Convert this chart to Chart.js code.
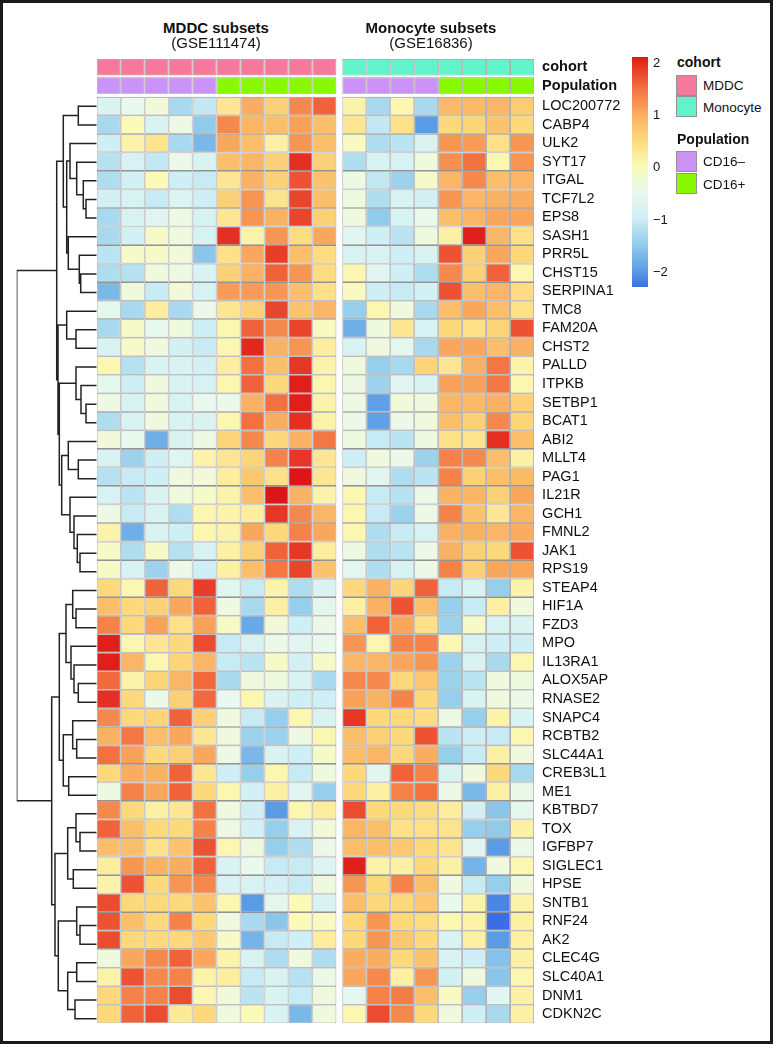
<!DOCTYPE html>
<html>
<head>
<meta charset="utf-8">
<script src="https://cdn.jsdelivr.net/npm/chart.js@4.4.1/dist/chart.umd.min.js"></script>
<style>
  body { margin: 0; background: #fff; font-family: "Liberation Sans", Arial, Helvetica, sans-serif; color: #111; }
  #frame { position: absolute; left: 0; top: 0; width: 773px; height: 1044px; box-sizing: border-box; border: 3px solid #1a1a1a; }
  canvas { position: absolute; }
  .t { position: absolute; white-space: nowrap; line-height: 1; }
  .c { transform: translate(-50%, -50%); }
  .l { transform: translateY(-50%); }
  .b { font-weight: bold; }
  .sw { position: absolute; width: 21px; height: 21px; box-sizing: border-box; border: 1px solid #939393; }
</style>
</head>
<body>
<div id="frame"></div>
<canvas id="dendro" width="100" height="1000" style="left:0;top:40px"></canvas>
<canvas id="heat" width="560" height="1000" style="left:90px;top:40px"></canvas>

<div class="t c b" style="left:216px;top:27px;font-size:15px">MDDC subsets</div>
<div class="t c" style="left:216px;top:42px;font-size:15px">(GSE111474)</div>
<div class="t c b" style="left:431px;top:27px;font-size:15px">Monocyte subsets</div>
<div class="t c" style="left:431px;top:42px;font-size:15px">(GSE16836)</div>

<div id="colorbar" style="position:absolute;left:632px;top:57px;width:15.5px;height:229.5px"></div>
<div id="colorbarTicks"></div>

<div class="t l b" style="left:677px;top:62px;font-size:14px">cohort</div>
<div class="sw" id="swMDDC" style="left:676px;top:75px"></div>
<div class="sw" id="swMono" style="left:676px;top:96px"></div>
<div class="t l" style="left:703px;top:86px;font-size:13.5px">MDDC</div>
<div class="t l" style="left:703px;top:108px;font-size:13.5px">Monocyte</div>
<div class="t l b" style="left:677px;top:139px;font-size:14px">Population</div>
<div class="sw" id="swNeg" style="left:676px;top:151px"></div>
<div class="sw" id="swPos" style="left:676px;top:173px"></div>
<div class="t l" style="left:703px;top:162px;font-size:13.5px">CD16–</div>
<div class="t l" style="left:703px;top:185px;font-size:13.5px">CD16+</div>

<script>
// 1. Values (row-scaled expression, top row first)
const genes = ['LOC200772', 'CABP4', 'ULK2', 'SYT17', 'ITGAL', 'TCF7L2', 'EPS8', 'SASH1', 'PRR5L', 'CHST15',
  'SERPINA1', 'TMC8', 'FAM20A', 'CHST2', 'PALLD', 'ITPKB', 'SETBP1', 'BCAT1', 'ABI2', 'MLLT4',
  'PAG1', 'IL21R', 'GCH1', 'FMNL2', 'JAK1', 'RPS19', 'STEAP4', 'HIF1A', 'FZD3', 'MPO',
  'IL13RA1', 'ALOX5AP', 'RNASE2', 'SNAPC4', 'RCBTB2', 'SLC44A1', 'CREB3L1', 'ME1', 'KBTBD7', 'TOX',
  'IGFBP7', 'SIGLEC1', 'HPSE', 'SNTB1', 'RNF24', 'AK2', 'CLEC4G', 'SLC40A1', 'DNM1', 'CDKN2C'];

const mddcPopulation = ['CD16–', 'CD16–', 'CD16–', 'CD16–', 'CD16–', 'CD16+', 'CD16+', 'CD16+', 'CD16+', 'CD16+'];
const monoPopulation = ['CD16–', 'CD16–', 'CD16–', 'CD16–', 'CD16+', 'CD16+', 'CD16+', 'CD16+'];

const mddcValues = [
  [-0.8, -0.5, -0.3, -1.3, -1.1, 0.3, 1.0, 0.6, 1.3, 1.6],
  [-1.3, 0, -0.8, -0.4, -1.5, 1.3, 0.9, 0.8, 1.1, 0.8],
  [-1.0, 0.1, 0.35, -1.3, -1.7, 1.05, 0.8, 0.15, 1.2, 0.8],
  [-1.2, -0.85, -1.1, -0.45, -0.8, 0.8, 0.9, 0.6, 1.95, 0.6],
  [-1.25, -0.9, 0, -1.0, -1.05, 0.3, 0.95, 0.6, 1.7, 0.75],
  [-0.9, -0.85, -1.05, -0.75, -1.0, 0.6, 1.2, 0.35, 1.8, 0.8],
  [-1.3, -0.85, -0.7, -0.4, -0.85, 0.3, 1.2, 0.95, 1.8, 0.6],
  [-1.3, -0.9, -0.15, -0.35, -0.85, 1.95, 0.1, 1.2, 0.45, 1.05],
  [-1.15, -0.15, -0.15, -0.3, -1.55, 0.4, 1.05, 1.85, 0.8, 0.45],
  [-1.25, -1.2, -0.35, -0.4, -0.8, 0.6, 0.95, 1.6, 1.2, 0.45],
  [-1.7, -0.35, -1.05, -0.3, -0.85, 1.15, 1.15, 1.2, 0.8, 0.4],
  [-0.6, -1.3, 0.2, -1.3, -0.45, 0.3, 0.6, 1.8, 0.75, 0.9],
  [-1.3, -0.15, -0.55, -0.35, -1.0, 0.05, 1.6, 1.3, 1.8, -0.1],
  [-0.85, -0.15, -0.35, -0.9, -1.05, 0.05, 2.0, 0.95, 1.2, 0.2],
  [0.05, -1.2, -0.8, -0.8, -0.9, 0.2, 1.5, 0.8, 1.9, 0.1],
  [-0.6, -1.0, -0.35, -0.8, -0.85, 0.05, 1.6, 0.5, 2.05, 0.05],
  [-0.4, -0.85, -0.35, -0.8, -0.5, -0.45, 0.95, 1.5, 2.05, 0.1],
  [-1.25, -0.8, -0.35, -0.8, -0.8, 0.05, 1.5, 1.0, 1.95, 0.1],
  [-0.3, -0.5, -1.8, -0.8, -0.4, 0.55, 1.3, 0.5, 0.95, 1.45],
  [-0.85, -1.4, -1.0, -0.7, 0.1, 0.3, 0.55, 1.35, 1.9, 0.3],
  [-1.2, -1.05, -1.0, -0.35, -0.3, 0.2, 0.7, 0.4, 2.1, 0.3],
  [-0.85, -1.15, -0.8, -0.35, -0.15, 0.1, 0.8, 2.1, 0.95, 0.1],
  [-0.4, -1.05, -0.8, -1.25, 0.05, 0.1, 0.2, 1.9, 1.3, 0.9],
  [0.1, -1.8, -0.8, -1.0, 0.05, 0.1, 1.05, 0.5, 1.35, 1.05],
  [-0.15, -1.25, -0.15, -1.2, -0.85, 0.15, 0.6, 1.6, 1.9, 0.2],
  [-0.15, -0.85, -1.4, -0.45, -1.0, 0.15, 0.8, 1.45, 1.8, 0.75],
  [0.5, 0.05, 1.6, 0.5, 1.85, -0.65, -1.05, 0.1, -1.25, -0.8],
  [0.8, 0.5, 0.6, 1.05, 1.6, -0.4, -1.3, 0.15, -1.45, -0.6],
  [1.35, 0.5, 1.1, 0.4, 1.1, -0.15, -1.85, -0.3, -1.0, -0.45],
  [2.05, 0.05, 0.3, 0.5, 1.75, -1.05, -0.8, -0.45, -0.65, -0.5],
  [2.05, 0.9, 0.05, 0.55, 0.9, -1.05, -1.15, -0.15, -0.9, -0.15],
  [1.55, 0.1, 0.55, 0.9, 1.55, -1.3, -0.35, -0.35, -0.8, -1.3],
  [1.95, 0.5, -0.45, 0.6, 1.55, -0.5, 0.05, -0.8, -1.0, -1.0],
  [1.3, 0.5, 0.55, 1.6, 0.6, -0.35, -1.05, -1.45, 0.05, -0.8],
  [0.95, 1.45, 0.8, 1.05, 0.3, -0.35, -1.4, -1.4, -0.4, 0.05],
  [1.5, 1.1, 0.5, 0.6, 1.05, -0.4, -1.7, -0.8, -1.0, -0.15],
  [0.5, 1.0, 0.95, 1.6, 0.3, -1.0, -1.45, 0.05, -1.05, -0.35],
  [-0.4, 1.35, 1.05, 1.6, 0.5, 0.05, -0.9, 0.15, -0.65, -1.45],
  [1.3, 0.5, 0.15, 0.3, 1.5, -0.35, -1.0, -2.0, 0.05, 0.2],
  [1.6, 0.8, 0.5, 0.5, 1.35, -0.4, -0.9, -1.45, -0.8, -0.3],
  [0.8, 0.8, 0.4, 0.75, 1.7, 0.05, -0.35, -1.45, -1.25, -0.45],
  [0.2, 1.2, 0.95, 1.0, 1.6, -0.8, -0.5, -1.05, -1.05, -0.75],
  [0.1, 1.7, 0.5, 1.2, 1.3, -0.8, -0.8, -0.9, -1.05, -0.35],
  [1.75, 0.5, 0.5, 0.5, 0.75, 0.05, -2.0, -0.6, 0, -0.8],
  [1.7, 0.8, 0.5, 1.35, 0.5, -0.35, -1.3, -1.55, 0, -0.1],
  [1.75, 0.5, 0.5, 0.5, 0.7, -0.15, -1.75, -1.05, -1.0, 0.2],
  [-0.35, 1.05, 1.3, 1.6, 1.05, 0.1, -0.8, -1.25, -0.35, -1.25],
  [0.1, 1.7, 1.3, 1.35, 0.1, 0.2, -1.05, -0.8, -1.2, -0.45],
  [0.5, 1.35, 1.35, 1.75, 0.05, -0.3, -1.15, -0.8, -1.05, -0.35],
  [0.5, 1.6, 1.75, 0.25, 0.5, -0.35, 0, -0.8, -1.7, -0.35]
];

const monoValues = [
  [0.1, -1.3, 0.05, -1.3, 0.85, 0.85, 0.9, 0.65],
  [0.3, -1.1, 0.4, -2.0, 0.5, 0.55, 0.75, 0.5],
  [-0.1, -1.25, -1.15, -0.8, 1.2, 1.15, 0.4, 1.2],
  [-1.25, -0.85, -0.85, -0.35, 1.25, 1.5, 0.05, 1.2],
  [-0.4, -1.1, -1.4, -0.2, 0.9, 1.3, 0.8, 0.9],
  [-0.35, -1.25, -0.85, -0.9, 1.2, 0.9, 0.95, 1.0],
  [-0.35, -1.5, -0.85, -0.5, 0.8, 0.9, 1.05, 1.05],
  [-0.65, -1.0, -1.15, -0.35, 0.15, 2.05, 0.9, 0.4],
  [-0.85, -0.8, -1.0, -0.8, 1.7, 0.6, 1.05, 0.5],
  [0.05, -0.65, -1.0, -1.25, 1.3, 0.6, 1.6, 0.05],
  [-0.1, -1.0, -1.05, -0.9, 1.7, 0.8, 0.9, 0.45],
  [-1.45, 0.05, -0.35, -1.3, 0.8, 1.05, 0.8, 0.4],
  [-1.8, -0.35, 0.3, -0.85, 0.5, 0.4, 0.55, 1.7],
  [-0.8, -0.35, -0.6, -1.3, 1.05, 1.05, 0.8, 0.95],
  [-0.35, -1.45, -1.3, 0.55, 0.3, 0.95, 1.45, 0.1],
  [-0.4, -1.4, -0.65, -0.8, 1.1, 1.1, 1.45, 0.05],
  [-0.4, -1.95, -0.3, -0.35, 0.9, 0.85, 0.95, 0.6],
  [-0.45, -1.95, -0.45, -0.35, 0.8, 0.6, 1.3, 0.55],
  [-0.35, -1.05, -1.15, -0.4, 0.4, 0.35, 1.95, 0.8],
  [-1.0, -0.35, -0.45, -1.4, 1.35, 1.3, 0.8, 0.15],
  [-0.35, -0.65, -1.25, -1.15, 1.35, 0.6, 0.8, 0.85],
  [0.05, -1.05, -1.2, -0.45, 0.95, 0.9, 0.6, 1.05],
  [0.05, -1.05, -1.4, -0.45, 1.35, 0.75, 0.3, 0.9],
  [0.05, -1.25, -1.05, -0.85, 0.95, 0.95, 0.9, 1.0],
  [-0.4, -1.25, -1.15, -0.45, 0.95, 0.6, 0.5, 1.7],
  [-0.6, -1.25, -0.85, -0.45, 1.35, 0.6, 1.05, 1.05],
  [0.5, 0.95, 0.55, 1.6, -1.05, -0.8, -1.45, 0.1],
  [0.15, 0.95, 1.7, 0.8, -1.45, -1.05, 0.15, -0.35],
  [0.8, 1.6, 1.05, 0.4, -1.4, -0.15, -0.8, -0.8],
  [1.2, 0.05, 1.35, 1.35, 0.05, -0.85, -1.0, -1.0],
  [0.9, 0.9, 1.05, 1.2, -1.4, -0.8, -1.3, 0.05],
  [1.3, 1.3, 0.5, 0.7, -1.4, -1.15, -0.35, -0.35],
  [1.1, 0.95, 1.35, 0.5, -1.45, -0.8, -0.35, -0.45],
  [1.9, 0.5, 0.5, 0.45, -0.4, -1.45, 0.1, -0.8],
  [0.8, 0.6, 0.5, 1.7, -1.15, -1.0, -1.05, 0.05],
  [0.8, 0.9, 0.5, 1.0, -1.45, -1.05, 0.15, -0.35],
  [0.5, -0.65, 1.6, 1.35, -0.8, -0.35, 0.5, -1.3],
  [0.5, 0.15, 1.35, 1.5, -0.45, -1.7, 0.15, -0.45],
  [1.75, 0.5, 0.5, 0.45, 0.2, -0.9, -1.55, -0.6],
  [0.9, 0.8, 0.4, 0.4, 0.35, -1.45, -1.5, 0.15],
  [0.8, 0.8, 0.7, 0.5, 0.35, -0.65, -2.0, -0.45],
  [2.05, 0.1, 0.15, 0.5, 0.15, -1.75, -0.35, 0.05],
  [1.2, 0.5, 1.35, 0.8, -0.35, -1.05, -1.45, -0.35],
  [0.8, 0.5, 0.5, 0.7, -0.5, 0.1, -2.15, 0.1],
  [0.5, 1.2, 0.5, 0.45, 0.05, 0.1, -2.3, 0.15],
  [0.5, 1.2, 0.7, 0.5, -0.8, 0.15, -2.0, 0.15],
  [1.0, 1.0, 0.5, 0.75, -0.8, -1.0, -1.6, 0.15],
  [1.05, 1.3, 0.15, 1.2, -0.9, -0.35, -1.55, 0.05],
  [-0.6, 1.35, 1.4, 0.8, -0.1, -1.45, -0.65, 0.15],
  [0.05, 1.75, 1.3, 0.5, -0.35, -1.0, -1.3, 0.15]
];

// row clustering: [left, right, height]; a number is a gene row, "mK" is merge K
const dendroMerges = [
  [0, 1, 18.4], [5, 6, 10.7], [4, 'm1', 13.4], [3, 'm2', 20], [2, 'm3', 26.7],
  [9, 10, 16], [8, 'm5', 17.4], [7, 'm6', 28.4], ['m4', 'm7', 30], ['m0', 'm8', 33.4],
  [12, 13, 20.7], [11, 'm10', 30], [16, 17, 10.7], [15, 'm12', 15.7], [14, 'm13', 20.7],
  [19, 20, 18.4], [18, 'm15', 28.4], [24, 25, 16.7], [23, 'm17', 19.4], [22, 'm18', 22.7],
  [21, 'm19', 26.7], ['m16', 'm20', 35], ['m14', 'm21', 37.4], ['m11', 'm22', 38.7], ['m9', 'm23', 40],
  [27, 28, 20.7], [26, 'm25', 24], [31, 32, 18.4], [30, 'm27', 22.7], [29, 'm28', 25.7],
  ['m26', 'm29', 30.7], [34, 35, 20], [33, 'm31', 24], [36, 37, 28], ['m32', 'm33', 33.4],
  ['m30', 'm34', 37.4], [39, 40, 16.7], [38, 'm36', 20.7], [41, 42, 23.4], ['m37', 'm38', 29],
  [44, 45, 16.7], [43, 'm40', 20], [46, 47, 20], [48, 49, 21.7], ['m42', 'm43', 29],
  ['m41', 'm44', 38.4], ['m39', 'm45', 41.7], ['m35', 'm46', 45], ['m24', 'm47', 80]
];

const colorbarTicks = [2, 1, 0, -1, -2];

// 2. Colours
const paletteStops = [
  [-2.3, '#3b6ee6'], [-2.0, '#5a9be6'], [-1.5, '#90cbea'], [-1.0, '#cdeff5'], [-0.5, '#eaf9ee'],
  [0.0, '#fbfab6'], [0.5, '#fdd97c'], [1.0, '#f9ad60'], [1.5, '#f3703f'], [2.0, '#e3281f'], [2.1, '#dd1515']
];
const cohortColors = { MDDC: '#f7789d', Monocyte: '#63f3cb' };
const populationColors = { 'CD16–': '#cb92f8', 'CD16+': '#89f903' };
const cellBorder = '#939393';
const BLOCK_GAP = 0.25;   // blank strip between the two data sets (in cell widths)
const Y_MIN = -2.1, Y_MAX = genes.length;
const PAD_TOP = 17.9, PAD_BOTTOM = 12;

function hexToRgb(h) {
  const n = parseInt(h.slice(1), 16);
  return [(n >> 16) & 255, (n >> 8) & 255, n & 255];
}

function colorFor(v) {
  if (v <= paletteStops[0][0]) return paletteStops[0][1];
  for (let i = 1; i < paletteStops.length; i++) {
    const [v1, c1] = paletteStops[i];
    if (v <= v1) {
      const [v0, c0] = paletteStops[i - 1];
      const t = (v - v0) / (v1 - v0);
      const a = hexToRgb(c0), b = hexToRgb(c1);
      return 'rgb(' + a.map((x, k) => Math.round(x + (b[k] - x) * t)).join(',') + ')';
    }
  }
  return paletteStops[paletteStops.length - 1][1];
}

// 3. Columns: MDDC block then Monocyte block, with a small gap
const columns = [];
mddcPopulation.forEach((p, i) => columns.push({ x: i + 0.5, cohort: 'MDDC', population: p }));
monoPopulation.forEach((p, j) => columns.push({ x: mddcPopulation.length + BLOCK_GAP + j + 0.5, cohort: 'Monocyte', population: p }));
const X_MAX = mddcPopulation.length + BLOCK_GAP + monoPopulation.length;

// annotation strips sit above row 0
const cohortSpan = [-2.04, -1.15];
const populationSpan = [-1.05, -0.16];

const datasets = [];
datasets.push({
  label: 'cohort',
  data: columns.map(c => ({ x: c.x, y: cohortSpan })),
  backgroundColor: columns.map(c => cohortColors[c.cohort])
});
datasets.push({
  label: 'Population',
  data: columns.map(c => ({ x: c.x, y: populationSpan })),
  backgroundColor: columns.map(c => populationColors[c.population])
});
genes.forEach((g, r) => {
  const vals = mddcValues[r].concat(monoValues[r]);
  datasets.push({
    label: g,
    data: columns.map(c => ({ x: c.x, y: [r, r + 1] })),
    backgroundColor: vals.map(colorFor)
  });
});

const tickValues = [(cohortSpan[0] + cohortSpan[1]) / 2, (populationSpan[0] + populationSpan[1]) / 2]
  .concat(genes.map((g, r) => r + 0.5));
const tickLabels = ['cohort', 'Population'].concat(genes);

// 4. Heatmap chart
new Chart(document.getElementById('heat'), {
  type: 'bar',
  data: { datasets },
  options: {
    responsive: false,
    animation: false,
    devicePixelRatio: 1,
    layout: { padding: { left: 6.7, right: 5.9, top: PAD_TOP, bottom: PAD_BOTTOM } },
    datasets: {
      bar: {
        grouped: false,
        barPercentage: 1,
        categoryPercentage: 1,
        borderColor: cellBorder,
        borderWidth: 0.85,
        borderSkipped: false,
        inflateAmount: 0
      }
    },
    plugins: { legend: { display: false }, tooltip: { enabled: false } },
    scales: {
      x: {
        type: 'linear', min: 0, max: X_MAX, offset: false, display: false,
        afterBuildTicks: s => { s.ticks = [{ value: 0 }, { value: X_MAX }]; }
      },
      y: {
        type: 'linear', position: 'right', reverse: true, min: Y_MIN, max: Y_MAX,
        grid: { display: false, drawTicks: false },
        border: { display: false },
        afterBuildTicks: s => { s.ticks = tickValues.map(v => ({ value: v })); },
        afterFit: s => { s.width = 110; },
        ticks: {
          autoSkip: false,
          padding: 8,
          color: '#111',
          font: ctx => ({ family: '"Liberation Sans", Arial, sans-serif', size: 14.5, weight: ctx.index < 2 ? 'bold' : 'normal' }),
          callback: (v, i) => tickLabels[i]
        }
      }
    }
  }
});

// 5. Row dendrogram
function buildDendroPoints() {
  const nodes = [];
  const pts = [];
  const at = ref => typeof ref === 'number' ? { y: ref + 0.5, h: 0 } : nodes[+ref.slice(1)];
  dendroMerges.forEach(([a, b, h]) => {
    const l = at(a), r = at(b);
    pts.push({ x: l.h, y: l.y }, { x: h, y: l.y }, { x: h, y: r.y }, { x: r.h, y: r.y }, { x: null, y: null });
    nodes.push({ y: (l.y + r.y) / 2, h });
  });
  return pts;
}

new Chart(document.getElementById('dendro'), {
  type: 'scatter',
  data: {
    datasets: [{
      data: buildDendroPoints(),
      showLine: true,
      spanGaps: false,
      borderColor: '#222',
      borderWidth: 1.5,
      borderJoinStyle: 'miter',
      pointRadius: 0,
      tension: 0
    }]
  },
  options: {
    responsive: false,
    animation: false,
    devicePixelRatio: 1,
    layout: { padding: { left: 16.7, right: 3.3, top: PAD_TOP, bottom: PAD_BOTTOM } },
    plugins: { legend: { display: false }, tooltip: { enabled: false } },
    scales: {
      x: { type: 'linear', min: 0, max: 80, reverse: true, display: false },
      y: { type: 'linear', min: Y_MIN, max: Y_MAX, reverse: true, display: false }
    }
  }
});

// 6. Legends
const CB_TOP = 57, CB_H = 229.5, CB_HI = 2.09, CB_LO = -2.3;
const stops = [];
for (let k = 0; k <= 40; k++) {
  const v = CB_HI - k * (CB_HI - CB_LO) / 40;
  stops.push(colorFor(v) + ' ' + (k * 2.5) + '%');
}
document.getElementById('colorbar').style.background = 'linear-gradient(to bottom, ' + stops.join(', ') + ')';
const tickBox = document.getElementById('colorbarTicks');
colorbarTicks.forEach(v => {
  const d = document.createElement('div');
  d.className = 't l';
  d.style.left = '653px';
  d.style.fontSize = '13px';
  d.style.top = (CB_TOP + (CB_HI - v) / (CB_HI - CB_LO) * CB_H) + 'px';
  d.textContent = v < 0 ? '\u2212' + Math.abs(v) : String(v);
  tickBox.appendChild(d);
});
document.getElementById('swMDDC').style.background = cohortColors.MDDC;
document.getElementById('swMono').style.background = cohortColors.Monocyte;
document.getElementById('swNeg').style.background = populationColors['CD16–'];
document.getElementById('swPos').style.background = populationColors['CD16+'];
</script>
</body>
</html>
